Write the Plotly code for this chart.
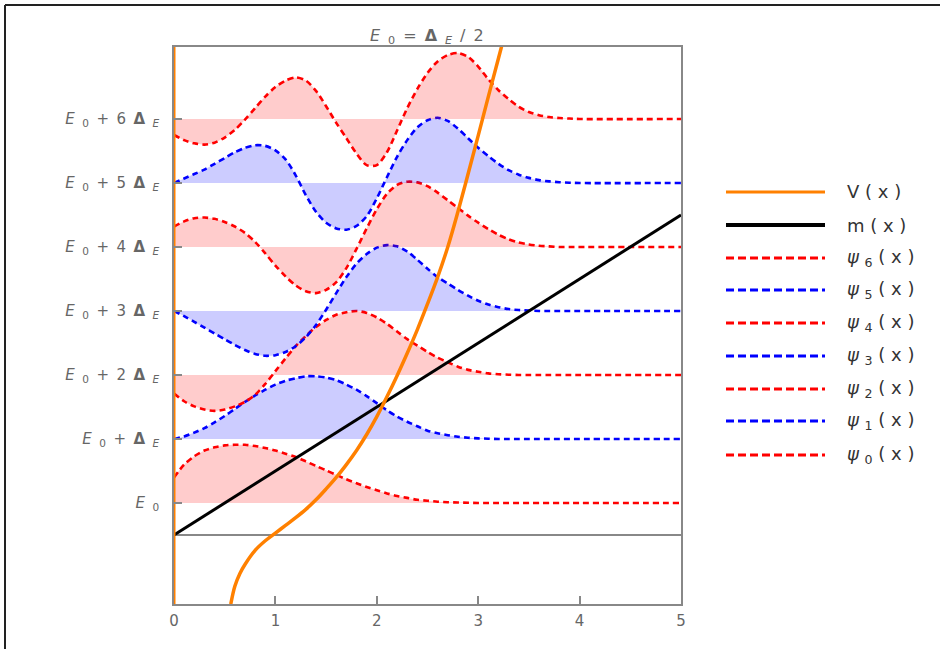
import plotly.graph_objects as go

# ---------------- data ----------------
x_grid = [0.0, 0.1, 0.2, 0.3, 0.4, 0.5, 0.6, 0.7, 0.8, 0.9,
          1.0, 1.1, 1.2, 1.3, 1.4, 1.5, 1.6, 1.7, 1.8, 1.9,
          2.0, 2.1, 2.2, 2.3, 2.4, 2.5, 2.6, 2.7, 2.8, 2.9,
          3.0, 3.1, 3.2, 3.3, 3.4, 3.5, 3.6, 3.7, 3.8, 3.9,
          4.0, 5.0]

psi0 = [0.40, 0.60, 0.73, 0.82, 0.87, 0.90, 0.91, 0.91, 0.89, 0.86,
        0.82, 0.77, 0.72, 0.65, 0.58, 0.51, 0.44, 0.37, 0.31, 0.25,
        0.20, 0.15, 0.11, 0.08, 0.05, 0.035, 0.02, 0.012, 0.007, 0.004,
        0, 0, 0, 0, 0, 0, 0, 0, 0, 0, 0, 0]
psi1 = [0.0, 0.04, 0.10, 0.17, 0.26, 0.36, 0.47, 0.58, 0.68, 0.77,
        0.85, 0.91, 0.95, 0.98, 0.98, 0.96, 0.92, 0.85, 0.77, 0.67,
        0.56, 0.45, 0.35, 0.27, 0.20, 0.13, 0.09, 0.06, 0.035, 0.02,
        0.01, 0.005, 0, 0, 0, 0, 0, 0, 0, 0, 0, 0]
psi2 = [-0.29, -0.41, -0.49, -0.54, -0.56, -0.54, -0.49, -0.42, -0.31, -0.14,
        0.06, 0.26, 0.45, 0.61, 0.75, 0.86, 0.94, 0.98, 1.00, 0.97,
        0.90, 0.80, 0.68, 0.56, 0.46, 0.36, 0.27, 0.20, 0.13, 0.08,
        0.05, 0.025, 0.012, 0.005, 0, 0, 0, 0, 0, 0, 0, 0]
psi3 = [0.0, -0.08, -0.17, -0.26, -0.35, -0.44, -0.53, -0.61, -0.67, -0.70,
        -0.69, -0.64, -0.55, -0.41, -0.22, 0.02, 0.28, 0.53, 0.74, 0.89,
        0.99, 1.03, 1.01, 0.93, 0.80, 0.66, 0.53, 0.43, 0.33, 0.24,
        0.16, 0.10, 0.06, 0.03, 0.015, 0.007, 0, 0, 0, 0, 0, 0]
psi4 = [0.32, 0.40, 0.45, 0.46, 0.44, 0.39, 0.32, 0.22, 0.08, -0.10,
        -0.29, -0.46, -0.60, -0.69, -0.72, -0.67, -0.55, -0.33, -0.03, 0.29,
        0.59, 0.83, 0.97, 1.02, 1.01, 0.95, 0.85, 0.73, 0.61, 0.49,
        0.38, 0.28, 0.19, 0.12, 0.07, 0.04, 0.02, 0.01, 0, 0, 0, 0]
psi5 = [0.0, 0.07, 0.14, 0.21, 0.30, 0.39, 0.48, 0.55, 0.59, 0.58,
        0.51, 0.37, 0.12, -0.19, -0.45, -0.62, -0.71, -0.73, -0.67, -0.52,
        -0.24, 0.09, 0.41, 0.67, 0.87, 0.98, 1.02, 0.97, 0.85, 0.70,
        0.55, 0.42, 0.30, 0.20, 0.13, 0.08, 0.045, 0.025, 0.012, 0.005, 0, 0]
psi6 = [-0.25, -0.33, -0.38, -0.40, -0.37, -0.29, -0.17, -0.01, 0.17, 0.35,
        0.50, 0.60, 0.65, 0.60, 0.44, 0.20, -0.06, -0.30, -0.54, -0.72,
        -0.72, -0.52, -0.18, 0.17, 0.47, 0.72, 0.90, 1.00, 1.03, 0.97,
        0.82, 0.62, 0.45, 0.31, 0.19, 0.11, 0.06, 0.03, 0.015, 0.007, 0, 0]

levels = [0.5, 1.5, 2.5, 3.5, 4.5, 5.5, 6.5]   # E0 + n*dE, with dE = 1, E0 = dE/2

V_x = [0.56, 0.6, 0.65, 0.7, 0.8, 0.9, 1.0, 1.1, 1.2, 1.3, 1.4, 1.5, 1.6, 1.7,
       1.8, 1.9, 2.0, 2.1, 2.2, 2.3, 2.4, 2.5, 2.6, 2.7, 2.8, 2.9, 3.0, 3.1,
       3.2, 3.25]
V_y = [-1.08, -0.80, -0.60, -0.46, -0.24, -0.09, 0.03, 0.15, 0.27, 0.40, 0.55,
       0.72, 0.90, 1.10, 1.32, 1.57, 1.85, 2.16, 2.49, 2.84, 3.21, 3.61, 4.03,
       4.50, 5.05, 5.64, 6.24, 6.85, 7.45, 7.75]
wall_x = [0.0, 0.0]
wall_y = [-2.0, 9.0]

m_x = [0.0, 5.0]
m_y = [0.0, 5.0]

xtick_vals = [0, 1, 2, 3, 4, 5]
ytick_vals = levels

# labels: spaces between glyphs widen them like the (stretched) reference
SP = "\u2002"   # en space
E0 = "<i>E</i>" + SP + "<sub>0</sub>"
DE = "<b>Δ</b>" + SP + "<sub><i>E</i></sub>"
ytick_text = [E0, E0 + SP + "+" + SP + DE] + [E0 + SP + "+" + SP + "%d" % k + SP + DE for k in range(2, 7)]
title_text = E0 + SP + "=" + SP + DE + SP + "/" + SP + "2"

legend_labels = ["V ( x )", "m ( x )"] + ["<i>ψ</i> <sub>%d</sub> ( x )" % k for k in range(6, -1, -1)]

# ---------------- styling ----------------
W, H = 940, 649
L, R, T, B = 174, 259, 47, 45
RED, BLUE, ORANGE = "#ff0000", "#0000ff", "#ff8000"
FILL_RED, FILL_BLUE = "rgba(255,0,0,0.2)", "rgba(0,0,255,0.2)"
FONT = "DejaVu Sans"
GRAY = "#888888"

def px2paper(px, py):
    return (px - L) / (W - L - R), (H - B - py) / (H - T - B)

psis = [psi0, psi1, psi2, psi3, psi4, psi5, psi6]

fig = go.Figure()
for n, (psi, E) in enumerate(zip(psis, levels)):
    col = RED if n % 2 == 0 else BLUE
    fcol = FILL_RED if n % 2 == 0 else FILL_BLUE
    fig.add_trace(go.Scatter(x=[x_grid[0], x_grid[-1]], y=[E, E], mode="lines",
                             line=dict(width=0), showlegend=False, hoverinfo="skip"))
    fig.add_trace(go.Scatter(x=x_grid, y=[E + v for v in psi], mode="lines",
                             line=dict(color=col, width=2.6, dash="6px,4px", shape="spline", smoothing=0.8),
                             fill="tonexty", fillcolor=fcol, showlegend=False,
                             name="ψ%d(x)" % n))

fig.add_trace(go.Scatter(x=m_x, y=m_y, mode="lines", line=dict(color="black", width=3),
                         showlegend=False, name="m(x)"))
fig.add_trace(go.Scatter(x=wall_x, y=wall_y, mode="lines", line=dict(color=ORANGE, width=3),
                         showlegend=False, name="V(x)"))
fig.add_trace(go.Scatter(x=V_x, y=V_y, mode="lines",
                         line=dict(color=ORANGE, width=3.5, shape="spline", smoothing=1.0),
                         showlegend=False, name="V(x)"))

axis_common = dict(showline=True, linecolor=GRAY, linewidth=1.5, mirror=True,
                   ticks="inside", ticklen=8, tickcolor=GRAY, tickwidth=1.5,
                   showgrid=False, tickfont=dict(family=FONT, size=15, color="#666666"))

fig.update_xaxes(range=[0, 5], tickvals=xtick_vals, ticktext=[str(v) for v in xtick_vals],
                 zeroline=False, ticklabelstandoff=2, **axis_common)
fig.update_yaxes(range=[(535 - (H - B)) / 64, (535 - T) / 64],
                 tickvals=ytick_vals, ticktext=ytick_text,
                 zeroline=True, zerolinecolor=GRAY, zerolinewidth=1.5,
                 ticklabelstandoff=10, **axis_common)

shapes = []
annotations = []
# legend drawn by hand
leg_y = [192, 225, 258, 290, 323, 356, 389, 421, 455]
leg_styles = [(ORANGE, 3, "solid"), ("black", 4, "solid")] + \
             [((RED if k % 2 == 0 else BLUE), 3, "8px,4px") for k in range(6, -1, -1)]
for py, lab, (c, w, d) in zip(leg_y, legend_labels, leg_styles):
    x0, y0 = px2paper(726, py)
    x1, _ = px2paper(825, py)
    shapes.append(dict(type="line", xref="paper", yref="paper", x0=x0, x1=x1, y0=y0, y1=y0,
                       line=dict(color=c, width=w, dash=d)))
    tx, _ = px2paper(845, py)
    annotations.append(dict(xref="paper", yref="paper", x=tx, y=y0, xanchor="left", yanchor="middle",
                            text=lab, showarrow=False,
                            font=dict(family=FONT, size=18, color="#333333")))

# title
tx, ty = px2paper(427, 37)
annotations.append(dict(xref="paper", yref="paper", x=tx, y=ty, xanchor="center", yanchor="middle",
                        text=title_text, showarrow=False,
                        font=dict(family=FONT, size=16, color="#666666")))

# screenshot frame (top and left border)
bx0, by0 = px2paper(5, 5)
bx1, by1 = px2paper(940, 649)
shapes.append(dict(type="line", xref="paper", yref="paper", x0=bx0, x1=bx1, y0=by0, y1=by0,
                   line=dict(color="#222222", width=2)))
shapes.append(dict(type="line", xref="paper", yref="paper", x0=bx0, x1=bx0, y0=by0, y1=by1,
                   line=dict(color="#222222", width=2)))

fig.update_layout(width=W, height=H, margin=dict(l=L, r=R, t=T, b=B, autoexpand=False),
                  paper_bgcolor="white", plot_bgcolor="white", showlegend=False,
                  shapes=shapes, annotations=annotations)

fig.write_html("out.html", config={"displayModeBar": False},
               post_script="document.body.style.margin='0px';")
